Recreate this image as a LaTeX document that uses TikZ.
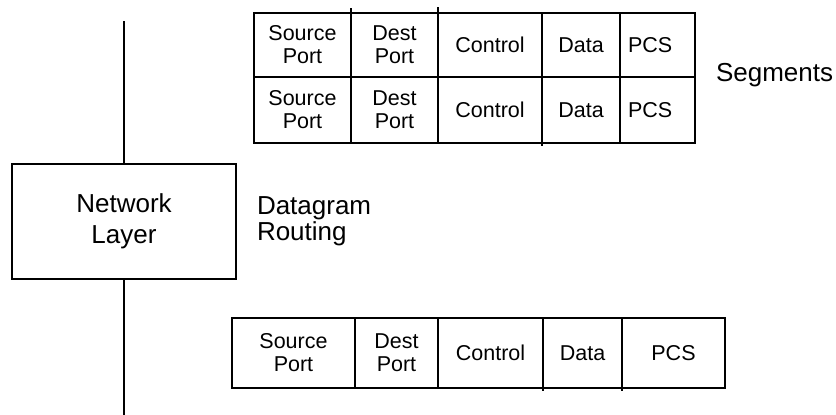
\documentclass[tikz,border=0pt]{standalone}
\usepackage{fontspec}
\setmainfont{Liberation Sans}
\begin{document}
\begin{tikzpicture}[x=1pt,y=-1pt,
  every node/.style={inner sep=0pt, outer sep=0pt},
  wire/.style={line width=1.9pt},
  sz/.style 2 args={minimum width=#1pt, minimum height=#2pt},
  cell/.style={draw, line width=1.9pt, align=center, font=\fontsize{21.5}{23}\selectfont},
  pcsleft/.style={text width=59pt, inner xsep=8pt, align=left},
  lbl/.style={font=\fontsize{26}{26}\selectfont, align=left},
]
\useasboundingbox (0,0) rectangle (836,415);

% upper segment, first row
\node[cell, sz={97}{64}]  (s1)  at (302.5,45) {Source\\Port};
\node[cell, sz={87}{64}]  (d1)  at (394.5,45) {Dest\\Port};
\node[cell, sz={104}{64}] (c1)  at (490,45)   {Control};
\node[cell, sz={78}{64}]  (da1) at (581,45)   {Data};
\node[cell, sz={75}{64}, pcsleft] (p1) at (657.5,45) {PCS};

% upper segment, second row
\node[cell, sz={97}{66}]  (s2)  at (302.5,110) {Source\\Port};
\node[cell, sz={87}{66}]  (d2)  at (394.5,110) {Dest\\Port};
\node[cell, sz={104}{66}] (c2)  at (490,110)   {Control};
\node[cell, sz={78}{66}]  (da2) at (581,110)   {Data};
\node[cell, sz={75}{66}, pcsleft] (p2) at (657.5,110) {PCS};

% small overhangs of the dividers
\draw[wire] (s1.north east) -- ++(0,-5);
\draw[wire] (d1.north east) -- ++(0,-6);
\draw[wire] (c2.south east) -- ++(0,3);

\node[lbl, anchor=base west] (seg) at (716,81.5) {Segments};

% network layer with its vertical line
\node[draw, wire, sz={224}{115}, align=center, font=\fontsize{26}{31}\selectfont]
  (net) at (124,221.5) {Network\\Layer};
\coordinate (ltop) at (124,21);
\coordinate (lbot) at (124,415);
\draw[wire] (ltop) -- (net.north);
\draw[wire] (net.south) -- (lbot);

\node[lbl, anchor=west] (dgr) at (257,221) {Datagram\\Routing};

% lower segment
\node[cell, sz={123}{70}] (s3)  at (293.5,353) {Source\\Port};
\node[cell, sz={83}{70}]  (d3)  at (396.5,353) {Dest\\Port};
\node[cell, sz={105}{70}] (c3)  at (490.5,353) {Control};
\node[cell, sz={79}{70}]  (da3) at (582.5,353) {Data};
\node[cell, sz={103}{70}] (p3)  at (673.5,353) {PCS};
\draw[wire] (c3.south east) -- ++(0,3);
\draw[wire] (da3.south east) -- ++(0,3);
\end{tikzpicture}
\end{document}
